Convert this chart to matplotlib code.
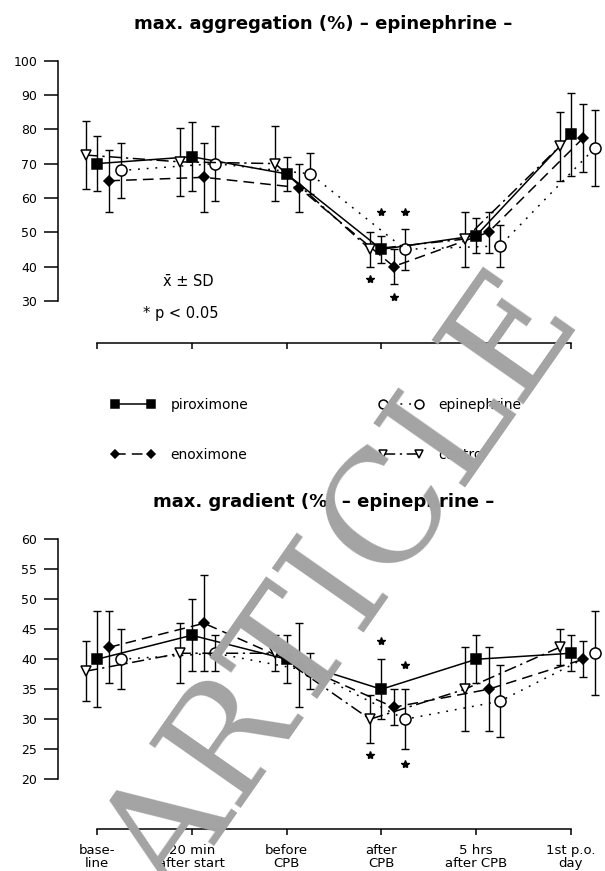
import matplotlib

matplotlib.use("Agg")
import matplotlib.pyplot as plt
import numpy as np

# time points (x axis of both panels)
timepoints = [
    "base-\nline",
    "20 min\nafter start",
    "before\nCPB",
    "after\nCPB",
    "5 hrs\nafter CPB",
    "1st p.o.\nday",
]
groups = ["piroximone", "enoximone", "epinephrine", "control"]

# max. aggregation (%), mean and SD
agg_piroximone = [70, 72, 67, 45, 49, 78.5]
agg_piroximone_sd = [8, 10, 5, 4, 5, 12]
agg_enoximone = [65, 66, 63, 40, 50, 77.5]
agg_enoximone_sd = [9, 10, 7, 5, 6, 10]
agg_epinephrine = [68, 70, 67, 45, 46, 74.5]
agg_epinephrine_sd = [8, 11, 6, 6, 6, 11]
agg_control = [72.5, 70.5, 70, 45, 48, 75]
agg_control_sd = [10, 10, 11, 5, 8, 10]

# max. gradient (%), mean and SD
grad_piroximone = [40, 44, 40, 35, 40, 41]
grad_piroximone_sd = [8, 6, 4, 5, 4, 3]
grad_enoximone = [42, 46, 39, 32, 35, 40]
grad_enoximone_sd = [6, 8, 7, 3, 7, 3]
grad_epinephrine = [40, 41, 38, 30, 33, 41]
grad_epinephrine_sd = [5, 3, 3, 5, 6, 7]
grad_control = [38, 41, 41, 30, 35, 42]
grad_control_sd = [5, 5, 3, 4, 7, 3]

# significance asterisks (group, time point index, value)
agg_sig = [("piroximone", 3, 56), ("epinephrine", 3, 56),
           ("control", 3, 36.4), ("enoximone", 3, 31)]
grad_sig = [("piroximone", 3, 43), ("epinephrine", 3, 39),
            ("control", 3, 24), ("epinephrine", 3, 22.5)]

STYLE = {
    "piroximone": dict(offset=0.0, marker="s", ms=6.5, mfc="black", ls="-"),
    "enoximone": dict(offset=0.13, marker="D", ms=5.5, mfc="black", ls=(0, (7, 4))),
    "epinephrine": dict(offset=0.25, marker="o", ms=8, mfc="white", ls=(0, (1.2, 4.5))),
    "control": dict(offset=-0.12, marker="v", ms=6.5, mfc="white", ls=(0, (8, 3, 1.5, 3))),
}

W, H = 605, 871
x = np.arange(len(timepoints))


def style_axes(ax, ybounds, yticks):
    for side in ("top", "right"):
        ax.spines[side].set_visible(False)
    ax.spines["left"].set_bounds(*ybounds)
    ax.spines["bottom"].set_bounds(0, len(timepoints) - 1)
    for side in ("left", "bottom"):
        ax.spines[side].set_linewidth(1.1)
    ax.set_xlim(-0.411, 5.306)
    ax.set_xticks(x)
    ax.set_yticks(yticks)
    ax.tick_params(axis="y", direction="out", length=10, width=1.1, pad=5, labelsize=9)
    ax.tick_params(axis="x", direction="out", length=4.5, width=1.1)


def draw_panel(ax, series, sig):
    lines = {}
    for name in groups:
        mean, sd = series[name]
        st = STYLE[name]
        xs = x + st["offset"]
        ax.errorbar(xs, mean, yerr=sd, fmt="none", ecolor="black",
                    elinewidth=1, capsize=3, capthick=1, clip_on=False, zorder=2)
        (ln,) = ax.plot(xs, mean, color="black", lw=1.1, ls=st["ls"],
                        marker=st["marker"], ms=st["ms"], mfc=st["mfc"],
                        mec="black", mew=1.1, clip_on=False, zorder=3,
                        label=name)
        lines[name] = ln
    for name, idx, val in sig:
        ax.plot(idx + STYLE[name]["offset"], val, marker="*", ms=6,
                color="black", ls="none", clip_on=False)
    return lines


fig = plt.figure(figsize=(W / 100, H / 100), dpi=100)

# upper panel: max. aggregation
ax1 = fig.add_axes([58 / W, 1 - 343 / H, 542 / W, (343 - 60.7) / H])
ax1.set_ylim(17.7, 100)
style_axes(ax1, (30, 100), np.arange(30, 101, 10))
ax1.set_xticklabels([])
lines = draw_panel(ax1, {
    "piroximone": (agg_piroximone, agg_piroximone_sd),
    "enoximone": (agg_enoximone, agg_enoximone_sd),
    "epinephrine": (agg_epinephrine, agg_epinephrine_sd),
    "control": (agg_control, agg_control_sd),
}, agg_sig)
ax1.text(0.965, 35.5, "x\u0304 \u00b1 SD", ha="center", va="center", fontsize=10.5)
ax1.text(0.88, 26.4, "* p < 0.05", ha="center", va="center", fontsize=10.5)

# lower panel: max. gradient
ax2 = fig.add_axes([58 / W, 1 - 829 / H, 542 / W, (829 - 539.3) / H])
ax2.set_ylim(11.7, 60)
style_axes(ax2, (20, 60), np.arange(20, 61, 5))
ax2.set_xticklabels(timepoints, fontsize=9.5, linespacing=1.0)
ax2.tick_params(axis="x", pad=6)
draw_panel(ax2, {
    "piroximone": (grad_piroximone, grad_piroximone_sd),
    "enoximone": (grad_enoximone, grad_enoximone_sd),
    "epinephrine": (grad_epinephrine, grad_epinephrine_sd),
    "control": (grad_control, grad_control_sd),
}, grad_sig)

fig.text(323 / W, 1 - 24 / H, "max. aggregation (%) \u2013 epinephrine \u2013",
         ha="center", va="center", fontsize=13, fontweight="bold")
fig.text(324 / W, 1 - 502 / H, "max. gradient (%) \u2013 epinephrine \u2013",
         ha="center", va="center", fontsize=13, fontweight="bold")

# legend, two columns placed between the panels
for names, xpos in ((["piroximone", "enoximone"], 111), (["epinephrine", "control"], 379)):
    fig.legend([lines[n] for n in names], names, loc="center left",
               bbox_to_anchor=(xpos / W, 1 - 430 / H), frameon=False,
               numpoints=2, markerscale=0.8, handlelength=3.2,
               handletextpad=1.1, labelspacing=2.6, fontsize=10,
               borderpad=0, borderaxespad=0)

# watermark of the scanned source
fig.text(345 / W, 1 - 588 / H, "ARTICLE", rotation=55, ha="center", va="center",
         fontsize=110, family="DejaVu Serif", color="0.64", zorder=10)

fig.savefig("out.png", dpi=100)
